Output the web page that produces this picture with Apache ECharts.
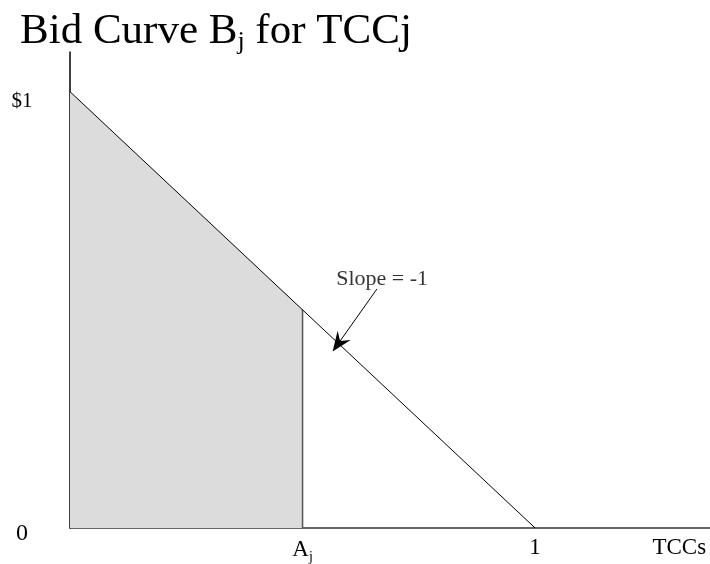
<!DOCTYPE html>
<html>
<head>
<meta charset="utf-8">
<script src="https://cdn.jsdelivr.net/npm/echarts@6/dist/echarts.min.js"></script>
<style>
  html, body { margin: 0; padding: 0; background: #fff; }
  #chart { width: 710px; height: 564px; }
</style>
</head>
<body>
<div id="chart"></div>
<script>
// bid curve: price falls from $1 to 0 as TCCs go from 0 to 1
const curveX = [0, 1]
const curveY = [1, 0]
// shaded part up to A_j
const Aj = 0.5
const shadeX = [0, Aj]
const shadeY = [1, 0.5]
// tick labels
const xTickValues = [Aj, 1, 1.31]
const xTickLabels = ['{a|A}{s|j}', '1', 'TCCs']
const yTickValues = [0, 1]
const yTickLabels = ['{z|0}', '{d|$1}']
// slope annotation
const slopeText = 'Slope = -1'
const slopeTextPos = [0.671, 0.57]
const arrowFrom = [0.66, 0.548]
const arrowTo = [0.577, 0.423]

const font = '"Liberation Serif", "Times New Roman", serif'
const chart = echarts.init(document.getElementById('chart'))

chart.setOption({
  animation: false,
  title: {
    text: '{a|Bid Curve B}{s|j}{a| for TCCj}',
    left: 15,
    top: 4,
    textStyle: {
      fontWeight: 'normal',
      rich: {
        a: { fontFamily: font, fontSize: 43, fontWeight: 'normal', color: '#000', lineHeight: 46 },
        s: { fontFamily: font, fontSize: 26, fontWeight: 'normal', color: '#000', lineHeight: 46, verticalAlign: 'bottom', padding: [14, 0, 0, 0] }
      }
    }
  },
  grid: { left: 70, right: 0, top: 52, bottom: 32 },
  xAxis: {
    type: 'value',
    min: 0,
    max: 1.376,
    splitLine: { show: false },
    axisLine: { lineStyle: { color: '#333', width: 1.5 } },
    axisTick: { show: false },
    axisLabel: {
      customValues: xTickValues,
      margin: 8,
      formatter: (v) => xTickLabels[xTickValues.indexOf(v)],
      fontFamily: font,
      fontSize: 23,
      color: '#000',
      rich: {
        a: { fontFamily: font, fontSize: 23, color: '#000' },
        s: { fontFamily: font, fontSize: 14, color: '#000', padding: [14, 0, 0, 0] }
      }
    }
  },
  yAxis: {
    type: 'value',
    min: 0,
    max: 1.091,
    splitLine: { show: false },
    axisLine: { onZero: false, lineStyle: { color: '#000', width: 1.5 } },
    axisTick: { show: false },
    axisLabel: {
      customValues: yTickValues,
      margin: 48,
      align: 'center',
      formatter: (v) => yTickLabels[yTickValues.indexOf(v)],
      rich: {
        z: { fontFamily: font, fontSize: 24, color: '#000', padding: [11, 0, 0, 0] },
        d: { fontFamily: font, fontSize: 21, color: '#000', padding: [20, 0, 0, 0] }
      }
    }
  },
  series: [
    {
      type: 'line',
      data: shadeX.map((x, i) => [x, shadeY[i]]),
      symbol: 'none',
      lineStyle: { width: 0 },
      areaStyle: { color: '#dcdcdc', opacity: 1 },
      z: 1
    },
    {
      type: 'line',
      data: [[Aj, 0], [Aj, shadeY[1]]],
      symbol: 'none',
      lineStyle: { color: '#555', width: 1.5 },
      z: 2
    },
    {
      type: 'line',
      data: curveX.map((x, i) => [x, curveY[i]]),
      symbol: 'none',
      lineStyle: { color: '#000', width: 1 },
      z: 3,
      markLine: {
        silent: true,
        symbol: ['none', 'path://M0,0 L8,17 L0,11 L-8,17 Z'],
        symbolSize: [16, 20],
        lineStyle: { color: '#000', width: 1, type: 'solid' },
        label: { show: false },
        data: [[{ coord: arrowFrom }, { coord: arrowTo }]]
      }
    },
    {
      type: 'scatter',
      data: [slopeTextPos],
      symbolSize: 0,
      label: {
        show: true,
        position: 'inside',
        formatter: slopeText,
        fontFamily: font,
        fontSize: 22,
        color: '#000'
      }
    }
  ]
})
</script>
</body>
</html>
